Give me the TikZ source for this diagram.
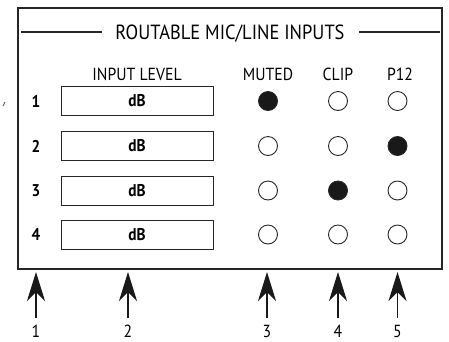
\documentclass[tikz,border=0pt]{standalone}
\usepackage{fontspec}
\setmainfont[FakeStretch=0.9]{PT Sans}
\usetikzlibrary{arrows.meta}
\begin{document}
\begin{tikzpicture}[x=1pt,y=-1pt,
  frame/.style={draw=black!85,line width=2.4pt},
  titleline/.style={draw=black!85,line width=1.8pt},
  lvlbox/.style={draw=black!85,line width=0.9pt,minimum width=152pt,minimum height=29pt,inner sep=0pt,font=\fontsize{17}{17}\selectfont\bfseries},
  led/.style={circle,draw=black!85,line width=0.9pt,minimum size=19pt,inner sep=0pt},
  ledon/.style={led,fill=black!90},
  rownum/.style={font=\fontsize{17}{17}\selectfont\bfseries},
  head/.style={font=\fontsize{17.5}{17.5}\selectfont,anchor=base},
  callout/.style={font=\fontsize{17.5}{17.5}\selectfont,anchor=base},
  pointer/.style={draw=black!90,line width=1.6pt,-{Stealth[length=29pt,width=18pt,inset=9pt]}}]
\useasboundingbox (0,0) rectangle (449,341);
% frame
\draw[frame] (18,8) rectangle (442,269);
% stray mark
\draw[black!70,line width=0.8pt] (3,106) -- (5,102);
% title
\node[font=\fontsize{20.5}{20.5}\selectfont,anchor=base] (title) at (230,39) {ROUTABLE MIC/LINE INPUTS};
\coordinate (tl) at (21,32);
\coordinate (tr) at (440,32);
\draw[titleline] (tl) -- (102,32);
\draw[titleline] (359,32) -- (tr);
% headers
\node[head] (hlevel) at (137,80) {INPUT LEVEL};
\node[head] (hmuted) at (268,80) {MUTED};
\node[head] (hclip) at (338,80) {CLIP};
\node[head] (hp12) at (400,80) {P12};
% rows
\foreach \i/\y/\a/\b/\c in {1/101/ledon/led/led, 2/146/led/led/ledon, 3/190.5/led/ledon/led, 4/234.5/led/led/led}{
  \node[rownum] (n\i) at (36,\y) {\i};
  \node[lvlbox] (box\i) at (137,\y) {dB};
  \node[\a] (m\i) at (268,\y) {};
  \node[\b] (c\i) at (338,\y) {};
  \node[\c] (p\i) at (397.5,\y) {};
}
% callouts
\foreach \k/\x in {1/36, 2/128, 3/267, 4/338, 5/397.5}{
  \node[callout] (lab\k) at (\x,337) {\k};
  \coordinate (s\k) at (\x,318);
  \coordinate (t\k) at (\x,272);
  \draw[pointer] (s\k) -- (t\k);
}
\end{tikzpicture}
\end{document}
